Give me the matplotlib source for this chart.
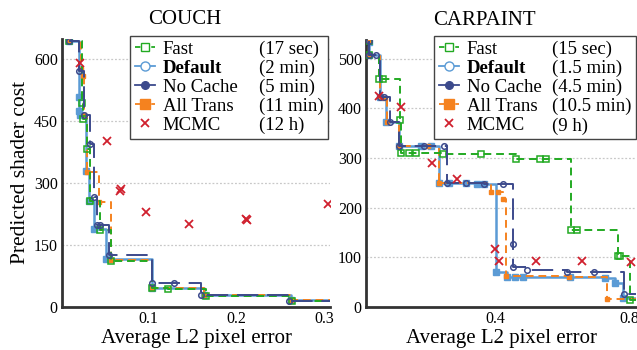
import numpy as np
import matplotlib.pyplot as plt
from matplotlib.lines import Line2D

plt.rcParams['font.family'] = ['Liberation Serif', 'DejaVu Serif']

# ---- COUCH (left) ----
couch_fast_x = [0.010, 0.0246, 0.026, 0.031, 0.034, 0.0455, 0.058, 0.104, 0.123, 0.1655, 0.2636]
couch_fast_y = [645, 494, 455, 384, 256, 186, 112, 45, 44, 27, 15]

couch_default_x = [0.010, 0.0216, 0.0216, 0.0225, 0.0295, 0.033, 0.0386, 0.052, 0.104, 0.1636, 0.2625]
couch_default_y = [645, 508, 476, 466, 330, 257, 188, 116, 45, 28, 16]

couch_nocache_x = [0.010, 0.0208, 0.0265, 0.0333, 0.0386, 0.0417, 0.0455, 0.055, 0.104, 0.1295, 0.160, 0.260]
couch_nocache_y = [645, 571, 466, 396, 267, 198, 198, 125, 57, 57, 28, 15]

couch_alltrans_x = [0.010, 0.0235, 0.0255, 0.0275, 0.031, 0.0437, 0.0576, 0.104, 0.1636, 0.2625]
couch_alltrans_y = [645, 577, 560, 465, 327, 255, 114, 45, 28, 16]

couch_mcmc_x = [0.022, 0.053, 0.0686, 0.068, 0.0974, 0.147, 0.212, 0.211, 0.304]
couch_mcmc_y = [591, 402, 285, 280, 229, 202, 210, 214, 249]

couch_times = ['(17 sec)', '(2 min)', '(5 min)', '(11 min)', '(12 h)']

# ---- CARPAINT (right) ----
car_fast_x = [0.025, 0.025, 0.0543, 0.067, 0.1185, 0.12, 0.146, 0.165, 0.247, 0.36, 0.464, 0.534, 0.553,
              0.625, 0.645, 0.765, 0.772, 0.802]
car_fast_y = [535, 507, 459, 459, 376, 311, 311, 311, 308, 308, 299, 299, 299, 155, 155, 103, 103, 15]

car_default_x = [0.025, 0.025, 0.059, 0.077, 0.1136, 0.18, 0.21, 0.235, 0.2636, 0.3136, 0.348, 0.368,
                 0.402, 0.435, 0.461, 0.485, 0.624, 0.727, 0.758, 0.782]
car_default_y = [534, 507, 423, 373, 325, 325, 325, 250, 249, 249, 248, 248,
                 70, 61, 61, 60, 60, 58, 49, 18]

car_nocache_x = [0.025, 0.025, 0.048, 0.059, 0.070, 0.089, 0.1136, 0.19, 0.249, 0.259, 0.313, 0.368,
                 0.425, 0.454, 0.454, 0.496, 0.615, 0.696, 0.785]
car_nocache_y = [535, 507, 507, 423, 423, 373, 325, 325, 325, 250, 249, 248,
                 247, 127, 81, 74, 71, 70, 27]

car_alltrans_x = [0.025, 0.025, 0.06, 0.072, 0.08, 0.1136, 0.20, 0.235, 0.39, 0.408, 0.423, 0.432, 0.62, 0.734]
car_alltrans_y = [535, 507, 423, 420, 373, 325, 325, 250, 232, 232, 217, 62, 60, 17]

car_mcmc_x = [0.057, 0.12, 0.212, 0.288, 0.40, 0.412, 0.523, 0.66, 0.805]
car_mcmc_y = [424, 403, 289, 257, 116, 92, 92, 92, 91]

car_times = ['(15 sec)', '(1.5 min)', '(4.5 min)', '(10.5 min)', '(9 h)']

names = ['Fast', 'Default', 'No Cache', 'All Trans', 'MCMC']

c_fast = '#22aa22'
c_default = '#5b9bd5'
c_nocache = '#3c4a8c'
c_alltrans = '#f5821f'
c_mcmc = '#d0202e'


def front(ax, xs, ys, xmax, **kw):
    x = list(xs) + [xmax]
    y = list(ys) + [ys[-1]]
    ax.plot(x, y, drawstyle='steps-post', **kw)


def panel(ax, data, xlim, ylim, yticks, xticks, title, title_x, times, colspace, anchor):
    fast, default, nocache, alltrans, mcmc = data
    xmax = xlim[1]
    front(ax, *default, xmax, color=c_default, lw=1.8, zorder=2)
    ax.plot(*default, ls='none', marker='s', ms=4, color=c_default, zorder=2)
    front(ax, *alltrans, xmax, color=c_alltrans, lw=1.4, ls=(0, (4, 2.5)), zorder=3)
    ax.plot(*alltrans, ls='none', marker='s', ms=3.5, color=c_alltrans, zorder=3)
    front(ax, *fast, xmax, color=c_fast, lw=1.4, ls=(0, (4, 2.5)), zorder=3)
    ax.plot(*fast, ls='none', marker='s', ms=4.5, mfc='none', mec=c_fast, mew=1.1, zorder=3)
    front(ax, *nocache, xmax, color=c_nocache, lw=1.4, ls=(0, (11, 4.5)), zorder=4)
    ax.plot(*nocache, ls='none', marker='o', ms=4, mfc='none', mec=c_nocache, mew=1.1, zorder=4)
    ax.plot(*mcmc, ls='none', marker='x', ms=5.5, mew=1.3, color=c_mcmc, zorder=5)

    ax.set_xlim(*xlim)
    ax.set_ylim(*ylim)
    ax.set_xticks(xticks)
    ax.set_yticks(yticks)
    ax.tick_params(length=0, labelsize=11.5, pad=3)
    for y in yticks[1:]:
        ax.axhline(y, color='#c8c8c8', lw=0.9, ls=(0, (1.5, 1.5)), zorder=0)
    for s in ['top', 'right']:
        ax.spines[s].set_visible(False)
    for s in ['left', 'bottom']:
        ax.spines[s].set_linewidth(2)
        ax.spines[s].set_color('#333333')
    ax.set_title(title, fontsize=15, pad=11, x=title_x)
    ax.set_xlabel('Average L2 pixel error', fontsize=15, labelpad=1.5)

    handles = [
        Line2D([], [], color=c_fast, ls=(0, (3, 1.5)), lw=1.3, marker='s', mfc='white', mec=c_fast, ms=6),
        Line2D([], [], color=c_default, lw=1.3, marker='o', mfc='white', mec=c_default, ms=6.5),
        Line2D([], [], color=c_nocache, lw=1.3, marker='o', ms=5.5),
        Line2D([], [], color=c_alltrans, ls=(0, (3, 1.5)), lw=1.3, marker='s', ms=7),
        Line2D([], [], ls='none', marker='x', color=c_mcmc, ms=6, mew=1.3),
    ]
    blanks = [Line2D([], [], alpha=0) for _ in times]
    leg = ax.legend(handles + blanks, names + times, ncol=2, loc='upper right',
                    bbox_to_anchor=anchor, fontsize=13.5, frameon=True, fancybox=False,
                    framealpha=1, edgecolor='#444444', handlelength=1.1, handletextpad=0.4,
                    labelspacing=0.1, columnspacing=colspace, borderpad=0.25, borderaxespad=0)
    leg.get_frame().set_linewidth(1.0)
    leg.get_texts()[1].set_fontweight('bold')
    return leg


fig = plt.figure(figsize=(6.37, 3.5), dpi=100)
ax1 = fig.add_axes([0.0973, 0.123, 0.421, 0.766])
ax2 = fig.add_axes([0.5746, 0.123, 0.424, 0.763])

panel(ax1, [(couch_fast_x, couch_fast_y), (couch_default_x, couch_default_y),
            (couch_nocache_x, couch_nocache_y), (couch_alltrans_x, couch_alltrans_y),
            (couch_mcmc_x, couch_mcmc_y)],
      (0.002, 0.307), (0, 650), [0, 150, 300, 450, 600], [0.1, 0.2, 0.3],
      'COUCH', 0.459, couch_times, -0.35, (0.993, 1.012))
ax1.set_ylabel('Predicted shader cost', fontsize=15.5, labelpad=3)

panel(ax2, [(car_fast_x, car_fast_y), (car_default_x, car_default_y),
            (car_nocache_x, car_nocache_y), (car_alltrans_x, car_alltrans_y),
            (car_mcmc_x, car_mcmc_y)],
      (0.017, 0.82), (0, 538), [0, 100, 200, 300, 400, 500], [0.4, 0.8],
      'CARPAINT', 0.439, car_times, -0.95, (1.0, 1.015))

fig.savefig('out.png', dpi=100)
